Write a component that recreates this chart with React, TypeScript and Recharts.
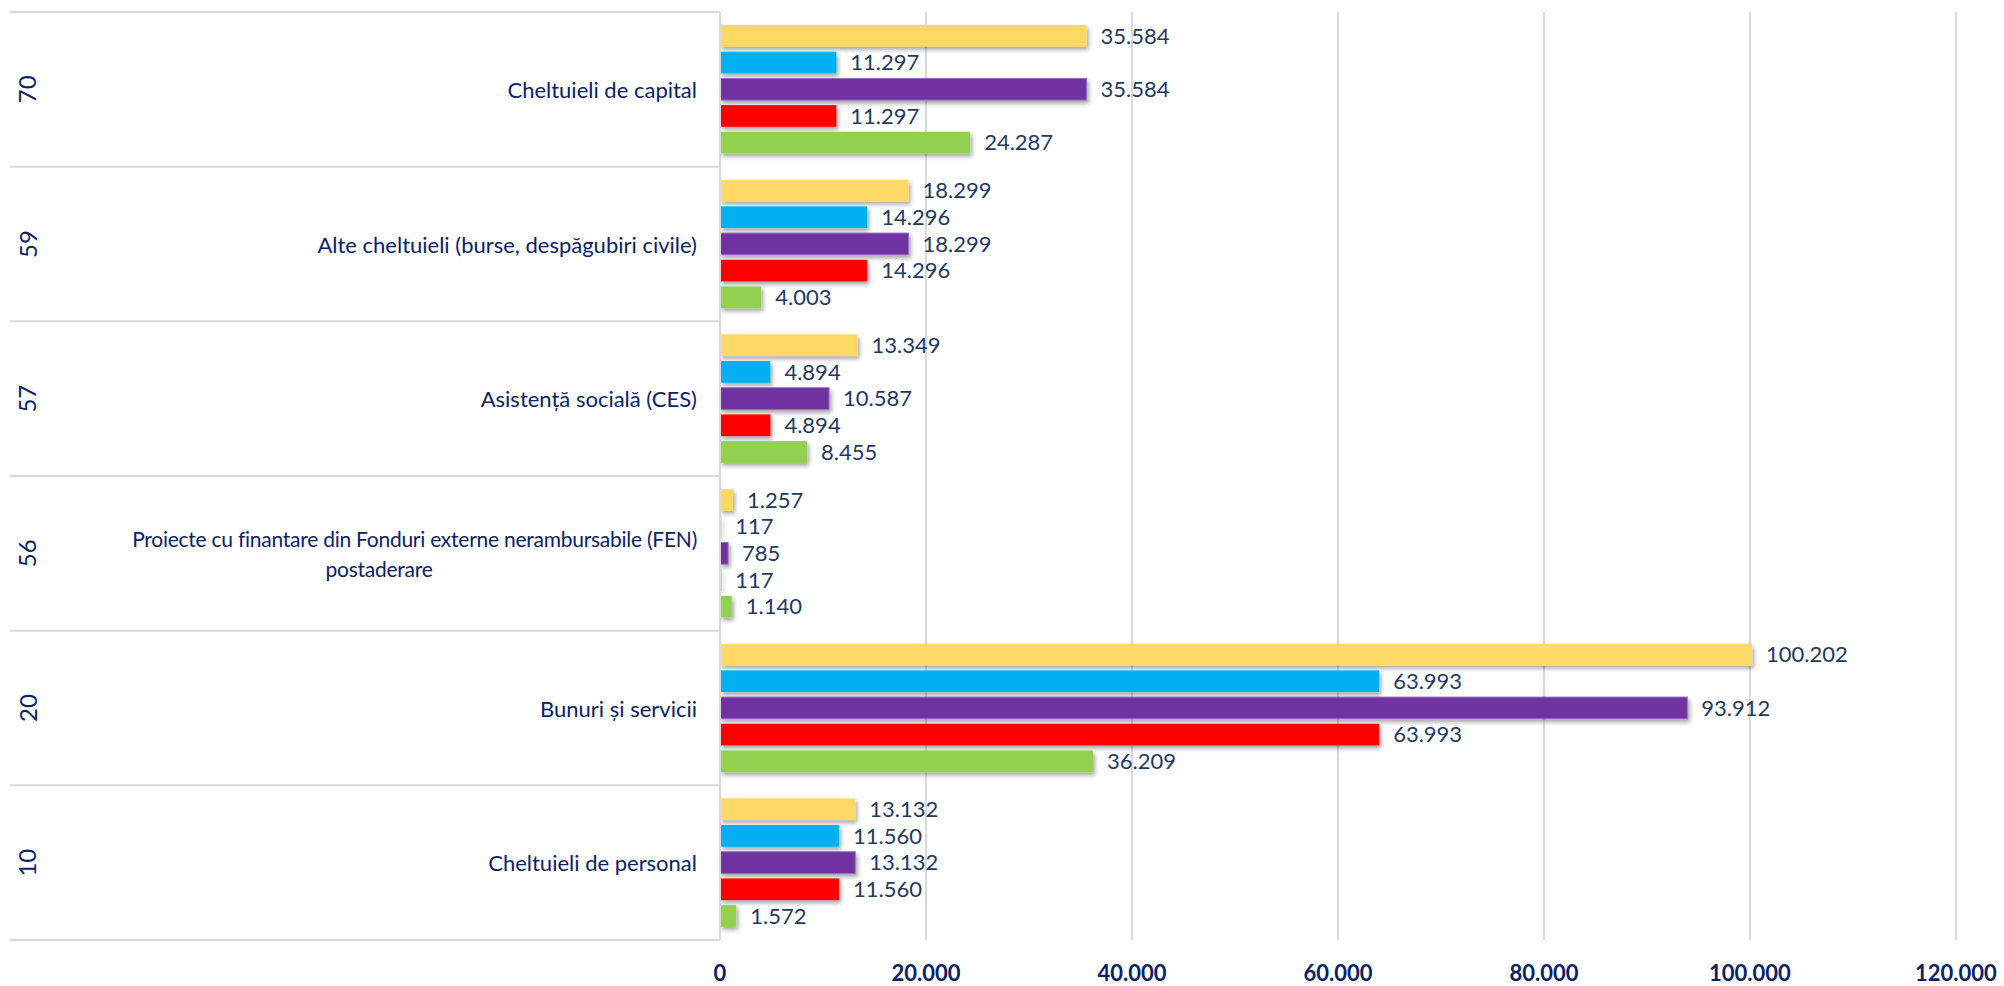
import React from 'react';
import { BarChart, Bar, XAxis, YAxis, CartesianGrid, LabelList } from 'recharts';

const codes = ['70', '59', '57', '56', '20', '10'];
const categories = [
  'Cheltuieli de capital',
  'Alte cheltuieli (burse, despăgubiri civile)',
  'Asistență socială (CES)',
  'Proiecte cu finantare din Fonduri externe nerambursabile (FEN) postaderare',
  'Bunuri și servicii',
  'Cheltuieli de personal',
];
const seriesYellow = [35584, 18299, 13349, 1257, 100202, 13132];
const seriesBlue = [11297, 14296, 4894, 117, 63993, 11560];
const seriesPurple = [35584, 18299, 10587, 785, 93912, 13132];
const seriesRed = [11297, 14296, 4894, 117, 63993, 11560];
const seriesGreen = [24287, 4003, 8455, 1140, 36209, 1572];
const xTicks = [0, 20000, 40000, 60000, 80000, 100000, 120000];

const data = categories.map((name, i) => ({
  name,
  code: codes[i],
  s1: seriesYellow[i],
  s2: seriesBlue[i],
  s3: seriesPurple[i],
  s4: seriesRed[i],
  s5: seriesGreen[i],
}));

const series = [
  { key: 's1', color: '#FFD966', stroke: 'none' },
  { key: 's2', color: '#00B0F0', stroke: 'none' },
  { key: 's3', color: '#7030A0', stroke: '#9A6CC4' },
  { key: 's4', color: '#FF0000', stroke: 'none' },
  { key: 's5', color: '#92D050', stroke: 'none' },
];

const fmt = (v: number) => {
  const s = Math.round(v).toString();
  return s.replace(/\B(?=(\d{3})+(?!\d))/g, '.');
};

const NAVY = '#0B2265';
const LABEL = '#1F3864';
const GRID = '#D9D9D9';
const FONT = 'Lato, "Open Sans", sans-serif';

const BarShape = (props: any) => {
  const { x, y, width, height, fill, stroke } = props;
  if (width == null || height == null) return null;
  return (
    <rect
      x={x}
      y={y}
      width={Math.max(width, 0)}
      height={height}
      fill={fill}
      stroke={stroke === 'none' ? undefined : stroke}
      strokeWidth={stroke === 'none' ? 0 : 1}
      filter="url(#barShadow)"
    />
  );
};

const CategoryTick = (props: any) => {
  const { x, y, payload, index } = props;
  const half = payload && payload.offset ? payload.offset : 77.3;
  const i = categories.indexOf(payload.value);
  const code = codes[i];
  const axisX = x + 23;
  const name: string = payload.value;
  const isLong = name.startsWith('Proiecte');
  return (
    <g>
      <line x1={10} x2={axisX} y1={y - half} y2={y - half} stroke={GRID} strokeWidth={2} />
      {index === categories.length - 1 && (
        <line x1={10} x2={axisX} y1={y + half} y2={y + half} stroke={GRID} strokeWidth={2} />
      )}
      <text
        x={27}
        y={y}
        transform={`rotate(-90, 27, ${y})`}
        textAnchor="middle"
        dominantBaseline="central"
        fill={NAVY}
        fontSize={24}
        fontFamily={FONT}
      >
        {code}
      </text>
      {isLong ? (
        <text fill={NAVY} fontSize={21} fontFamily={FONT} letterSpacing={-0.25}>
          <tspan x={x} y={y - 15} textAnchor="end" dominantBaseline="central">
            Proiecte cu finantare din Fonduri externe nerambursabile (FEN)
          </tspan>
          <tspan x={x - 318} y={y + 15} textAnchor="middle" dominantBaseline="central">
            postaderare
          </tspan>
        </text>
      ) : (
        <text
          x={x}
          y={y}
          textAnchor="end"
          dominantBaseline="central"
          fill={NAVY}
          fontSize={22}
          fontFamily={FONT}
        >
          {name}
        </text>
      )}
    </g>
  );
};

const ValueTick = (props: any) => {
  const { x, y, payload } = props;
  return (
    <text
      x={x}
      y={y + 41}
      textAnchor="middle"
      fill={NAVY}
      fontSize={22}
      fontWeight={700}
      fontFamily={FONT}
    >
      {fmt(payload.value)}
    </text>
  );
};

export default function App() {
  return (
    <div style={{ position: 'fixed', left: 0, top: 0, width: 2004, height: 986, background: '#fff' }}>
      <svg width={0} height={0} style={{ position: 'absolute' }}>
        <defs>
          <filter id="barShadow" filterUnits="userSpaceOnUse" x={0} y={0} width={2004} height={986}>
            <feDropShadow dx={2} dy={3} stdDeviation={2} floodColor="#000000" floodOpacity={0.35} />
          </filter>
        </defs>
      </svg>
      <BarChart
        width={2004}
        height={986}
        data={data}
        layout="vertical"
        margin={{ top: 12, right: 48, bottom: 0, left: 0 }}
        barSize={21.7}
        barGap={5}
      >
        <CartesianGrid horizontal={false} vertical stroke={GRID} strokeWidth={2} />
        <XAxis
          type="number"
          domain={[0, 120000]}
          ticks={xTicks}
          axisLine={false}
          tickLine={false}
          tickSize={0}
          tickMargin={0}
          height={46}
          tick={<ValueTick />}
          interval={0}
        />
        <YAxis
          type="category"
          dataKey="name"
          width={720}
          axisLine={{ stroke: GRID, strokeWidth: 2 }}
          tickLine={false}
          tickSize={0}
          tickMargin={23}
          tick={<CategoryTick />}
          interval={0}
        />
        {series.map((s) => (
          <Bar
            key={s.key}
            dataKey={s.key}
            fill={s.color}
            stroke={s.stroke}
            isAnimationActive={false}
            shape={<BarShape />}
          >
            <LabelList
              dataKey={s.key}
              position="right"
              offset={14}
              formatter={(v: any) => fmt(Number(v))}
              fill={LABEL}
              fontSize={22}
              fontFamily={FONT}
            />
          </Bar>
        ))}
      </BarChart>
    </div>
  );
}
